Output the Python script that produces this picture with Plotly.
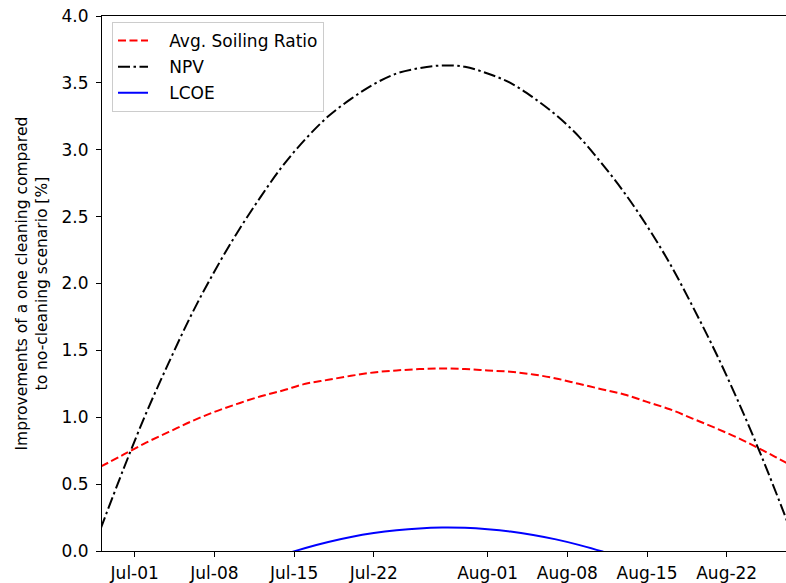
import plotly.graph_objects as go
import pandas as pd

# Dates every 2 days, Jun 28 -> Aug 29
dates = pd.date_range("2020-06-28", periods=32, freq="2D")

soiling = [0.63, 0.72, 0.81, 0.89, 0.97, 1.04, 1.10, 1.155, 1.20, 1.25, 1.28, 1.31,
           1.335, 1.35, 1.36, 1.365, 1.36, 1.35, 1.34, 1.32, 1.29, 1.25, 1.21, 1.17,
           1.115, 1.06, 0.99, 0.92, 0.845, 0.76, 0.67, 0.58]

npv = [0.165, 0.61, 1.03, 1.41, 1.77, 2.09, 2.38, 2.64, 2.88, 3.08, 3.25, 3.38,
       3.49, 3.57, 3.61, 3.63, 3.62, 3.57, 3.50, 3.39, 3.26, 3.10, 2.90, 2.68,
       2.43, 2.15, 1.83, 1.49, 1.12, 0.72, 0.29, -0.17]

lcoe = [-0.73, -0.62, -0.51, -0.41, -0.32, -0.235, -0.16, -0.09, -0.03, 0.023, 0.068,
        0.105, 0.134, 0.155, 0.169, 0.175, 0.173, 0.163, 0.146, 0.12, 0.087, 0.046,
        -0.002, -0.06, -0.125, -0.20, -0.28, -0.36, -0.46, -0.56, -0.67, -0.79]

x_tickvals = ["2020-07-01", "2020-07-08", "2020-07-15", "2020-07-22",
              "2020-08-01", "2020-08-08", "2020-08-15", "2020-08-22"]
x_ticktext = ["Jul-01", "Jul-08", "Jul-15", "Jul-22",
              "Aug-01", "Aug-08", "Aug-15", "Aug-22"]
y_tickvals = [0.0, 0.5, 1.0, 1.5, 2.0, 2.5, 3.0, 3.5, 4.0]

series_names = ["Avg. Soiling Ratio", "NPV", "LCOE"]

FONT = "DejaVu Sans"
FS = 17
PAD = "\u00a0\u00a0\u00a0"  # small gap between legend sample and label

W, H = 786, 583
L, T, B = 102, 16, 32
PW, PH = W - L, H - T - B

fig = go.Figure()
fig.add_trace(go.Scatter(x=dates, y=soiling, mode="lines", name=PAD + series_names[0],
                         legendgroup="a",
                         line=dict(color="#ff0000", width=2, dash="8px,3.5px", shape="spline")))
fig.add_trace(go.Scatter(x=dates, y=npv, mode="lines", name=PAD + series_names[1],
                         legendgroup="b",
                         line=dict(color="#000000", width=2, dash="12px,3.5px,2.5px,3.5px", shape="spline")))
fig.add_trace(go.Scatter(x=dates, y=lcoe, mode="lines", name=PAD + series_names[2],
                         legendgroup="c",
                         line=dict(color="#0000ff", width=2, shape="spline")))

fig.update_layout(
    width=W, height=H,
    margin=dict(l=L, r=0, t=T, b=B, autoexpand=False),
    paper_bgcolor="white", plot_bgcolor="white",
    font=dict(family=FONT, size=FS, color="black"),
    showlegend=True,
    legend=dict(x=(112 - L) / PW, y=1 - (22 - T) / PH, xanchor="left", yanchor="top",
                bgcolor="rgba(255,255,255,0.8)", bordercolor="#cccccc", borderwidth=1,
                font=dict(family=FONT, size=FS, color="black"),
                tracegroupgap=1, itemwidth=30),
    xaxis=dict(range=["2020-06-28 03:00", "2020-08-27 05:00"], automargin=False,
               tickmode="array", tickvals=x_tickvals, ticktext=x_ticktext,
               showgrid=False, zeroline=False,
               showline=True, linecolor="black", linewidth=1, mirror=True,
               ticks="outside", ticklen=5, tickcolor="black", tickwidth=1,
               ticklabelstandoff=2, ticklabeloverflow="allow",
               tickfont=dict(family=FONT, size=FS, color="black")),
    yaxis=dict(range=[0, 4.0], automargin=False,
               tickmode="array", tickvals=y_tickvals, tickformat=".1f",
               showgrid=False, zeroline=False,
               showline=True, linecolor="black", linewidth=1, mirror=False,
               ticks="outside", ticklen=5, tickcolor="black", tickwidth=1,
               ticklabelstandoff=4, ticklabeloverflow="allow",
               tickfont=dict(family=FONT, size=FS, color="black")),
    annotations=[dict(text="Improvements of a one cleaning compared<br>to no-cleaning scenario [%]",
                      textangle=-90, xref="paper", yref="paper",
                      x=(31 - L) / PW, y=0.5, xanchor="center", yanchor="middle",
                      showarrow=False, font=dict(family=FONT, size=15.5, color="black"))],
)

fig.write_html("out.html",
               config={"displayModeBar": False},
               post_script="document.body.style.margin='0px';"
                           "document.body.style.overflow='hidden';")
